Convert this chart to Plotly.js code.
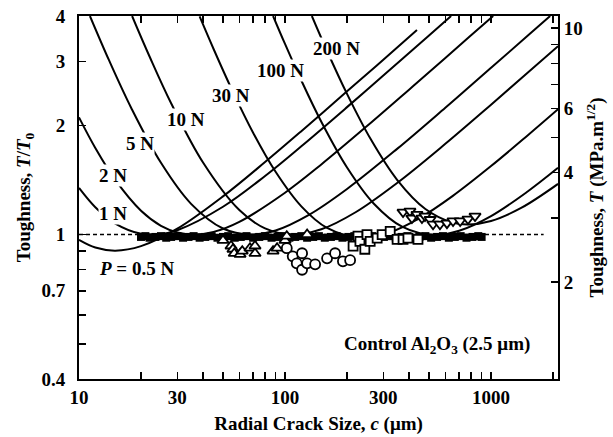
<!DOCTYPE html>
<html>
<head>
<meta charset="utf-8">
<script src="https://cdn.plot.ly/plotly-3.0.1.min.js"></script>
<style>html,body{margin:0;padding:0;background:#fff;}#chart{width:613px;height:437px;}</style>
</head>
<body>
<div id="chart"></div>
<script>
// ---- Reference toughness T0 (MPa.m^1/2) for the right-hand axis ----
const T0 = 2.7;

// ---- Theoretical curves, T/T0 vs crack size c (um) ----
const c_P05 = [10, 12, 15, 20, 30, 50, 80, 120, 200, 300, 437];
const t_P05 = [0.967, 0.921, 0.903, 0.929, 1.038, 1.274, 1.584, 1.927, 2.48, 3.03, 3.66];

const c_P1 = [10, 12, 15, 20, 25, 30, 50, 80, 120, 200, 300, 500, 640];
const t_P1 = [1.344, 1.189, 1.072, 1.005, 1.004, 1.028, 1.193, 1.45, 1.751, 2.244, 2.742, 3.535, 4.0];

const c_P2 = [10, 12, 15, 20, 25, 30, 36, 45, 60, 100, 150, 250, 400, 600, 800, 1024];
const t_P2 = [2.103, 1.732, 1.414, 1.163, 1.057, 1.014, 1.0, 1.017, 1.084, 1.304, 1.56, 1.99, 2.507, 3.066, 3.538, 4.0];

const c_P5 = [11.3, 14, 18, 25, 35, 50, 68, 90, 130, 200, 350, 600, 1000, 1500, 1936];
const t_P5 = [4.0, 3.017, 2.222, 1.576, 1.215, 1.039, 1.0, 1.026, 1.131, 1.335, 1.722, 2.236, 2.879, 3.523, 4.0];

const c_P10 = [18.1, 22, 28, 40, 60, 80, 109, 150, 220, 350, 600, 1000, 1500, 2114];
const t_P10 = [4.0, 3.094, 2.30, 1.579, 1.168, 1.04, 1.0, 1.034, 1.152, 1.387, 1.778, 2.279, 2.786, 3.304];

const c_P30 = [38.5, 45, 55, 70, 90, 120, 160, 235, 320, 450, 650, 1000, 1500, 2114];
const t_P30 = [3.99, 3.245, 2.52, 1.908, 1.489, 1.196, 1.043, 0.98, 1.012, 1.11, 1.276, 1.544, 1.872, 2.214];

const c_P100 = [87.5, 100, 120, 150, 200, 270, 370, 528, 700, 1000, 1500, 2114];
const t_P100 = [4.0, 3.35, 2.657, 2.045, 1.53, 1.216, 1.051, 0.997, 1.024, 1.124, 1.312, 1.527];

const c_P200 = [135, 160, 200, 260, 350, 480, 650, 775, 1000, 1400, 2114];
const t_P200 = [4.0, 3.204, 2.44, 1.835, 1.415, 1.176, 1.079, 1.066, 1.09, 1.184, 1.379];

// ---- Reference line T/T0 = 1 ----
const c_ref = [10, 1800];
const t_ref = [1, 1];

// ---- Measured data ----
const c_filled = [20, 21, 22, 23.5, 25, 26.5, 28, 30, 32, 34, 36, 38.5, 41, 44, 47, 50, 53, 57, 61, 65, 70, 75, 80, 86, 92, 98, 105, 112, 120, 128, 137, 146, 156, 167, 178, 190, 203, 217, 232, 248, 265, 283, 302, 323, 345, 368, 393, 420, 449, 480, 512, 547, 584, 624, 667, 712, 760, 812, 867, 900];
const t_filled = [0.985, 0.99, 0.98, 0.985, 0.99, 0.98, 0.985, 0.99, 0.98, 0.985, 0.99, 0.98, 0.985, 0.99, 0.98, 0.985, 0.99, 0.98, 0.985, 0.99, 0.98, 0.985, 0.99, 0.98, 0.985, 0.99, 0.98, 0.985, 0.99, 0.98, 0.985, 0.99, 0.98, 0.985, 0.99, 0.98, 0.985, 0.99, 0.98, 0.985, 0.99, 0.98, 0.985, 0.99, 0.98, 0.985, 0.99, 0.98, 0.985, 0.99, 0.98, 0.985, 0.99, 0.98, 0.985, 0.99, 0.98, 0.985, 0.99, 0.985];

const c_tri = [50, 54.7, 55.9, 56.7, 60.5, 62, 67.6, 71.5, 71.5, 87.5, 91.5, 100, 102, 128];
const t_tri = [0.964, 0.93, 0.911, 0.887, 0.882, 0.90, 0.917, 0.887, 0.93, 0.90, 0.917, 0.964, 0.99, 1.0];

const c_circ = [102, 109, 114, 121, 121, 128, 140, 160, 175, 191, 207];
const t_circ = [0.917, 0.871, 0.833, 0.888, 0.80, 0.833, 0.828, 0.86, 0.888, 0.844, 0.85];

const c_sq = [214, 226, 231, 244, 250, 259, 280, 296, 324, 350, 374, 395, 442];
const t_sq = [0.929, 0.99, 0.958, 0.911, 1.0, 0.958, 0.977, 1.0, 1.02, 0.97, 0.97, 0.977, 0.97];

const c_itri = [374, 404, 413, 437, 462, 478, 506, 523, 565, 611, 654, 708, 773, 836];
const t_itri = [1.153, 1.16, 1.11, 1.137, 1.11, 1.124, 1.10, 1.068, 1.068, 1.075, 1.09, 1.09, 1.103, 1.124];

// ---- Tick labels ----
const xTickVals = [10, 20, 30, 40, 50, 60, 70, 80, 90, 100, 200, 300, 400, 500, 600, 700, 800, 900, 1000, 2000];
const xTickText = ['10', '', '30', '', '', '', '', '', '', '100', '', '300', '', '', '', '', '', '', '1000', ''];
const yTickVals = [0.4, 0.5, 0.6, 0.7, 0.8, 0.9, 1, 2, 3, 4];
const yTickText = ['0.4', '', '', '0.7', '', '', '1', '2', '3', '4'];
const y2TickVals = [2, 3, 4, 5, 6, 7, 8, 9, 10];
const y2TickText = ['2', '', '4', '', '6', '', '', '', '10'];

const FONT = 'Liberation Serif, Times New Roman, serif';
const FS = 19;

function curve(c, t) {
  return {x: c, y: t, type: 'scatter', mode: 'lines', hoverinfo: 'skip',
          line: {color: '#000', width: 2, shape: 'spline', smoothing: 1}, showlegend: false};
}
function pts(c, t, symbol, size) {
  return {x: c, y: t, type: 'scatter', mode: 'markers', showlegend: false,
          marker: {symbol: symbol, size: size, color: '#fff', line: {color: '#000', width: 1.8}}};
}

const traces = [
  {x: c_ref, y: t_ref, type: 'scatter', mode: 'lines', showlegend: false,
   line: {color: '#000', width: 1.5, dash: '4px,3px'}},
  curve(c_P05, t_P05), curve(c_P1, t_P1), curve(c_P2, t_P2), curve(c_P5, t_P5),
  curve(c_P10, t_P10), curve(c_P30, t_P30), curve(c_P100, t_P100), curve(c_P200, t_P200),
  {x: c_filled, y: t_filled, type: 'scatter', mode: 'markers', showlegend: false,
   marker: {symbol: 'square', size: 8, color: '#000', line: {width: 0}}},
  pts(c_tri, t_tri, 'triangle-up', 10),
  pts(c_circ, t_circ, 'circle', 10),
  pts(c_sq, t_sq, 'square', 9),
  pts(c_itri, t_itri, 'triangle-down', 10),
  {x: [100], y: [T0], type: 'scatter', mode: 'markers', yaxis: 'y2', showlegend: false,
   hoverinfo: 'skip', marker: {opacity: 0}}
];

const L = Math.log10;
function lab(text, c, t, extra) {
  return Object.assign({text: text, x: L(c), y: L(t), xref: 'x', yref: 'y', showarrow: false,
    bgcolor: '#fff', borderpad: 0, font: {family: FONT, size: FS, color: '#000', weight: 'bold'}}, extra || {});
}

const layout = {
  width: 613, height: 437,
  margin: {l: 79, r: 55, t: 16, b: 58},
  paper_bgcolor: '#fff', plot_bgcolor: '#fff',
  font: {family: FONT, size: FS, color: '#000', weight: 'bold'},
  showlegend: false,
  xaxis: {
    type: 'log', range: [1, 3.325],
    tickmode: 'array', tickvals: xTickVals, ticktext: xTickText,
    ticks: 'inside', ticklen: 7, tickwidth: 1.5, tickcolor: '#000',
    showline: true, linecolor: '#000', linewidth: 2, mirror: 'ticks',
    showgrid: false, zeroline: false, automargin: false,
    tickfont: {family: FONT, size: FS, weight: 'bold'},
    title: {text: 'Radial Crack Size, <i>c</i> (μm)', font: {family: FONT, size: FS, weight: 'bold'}, standoff: 10}
  },
  yaxis: {
    type: 'log', range: [L(0.4), L(4)],
    tickmode: 'array', tickvals: yTickVals, ticktext: yTickText,
    ticks: 'inside', ticklen: 7, tickwidth: 1.5, tickcolor: '#000',
    showline: true, linecolor: '#000', linewidth: 2, mirror: false,
    showgrid: false, zeroline: false, automargin: false,
    ticklabelstandoff: 8,
    tickfont: {family: FONT, size: FS, weight: 'bold'},
    title: {text: 'Toughness, <i>T</i>/<i>T</i><sub>0</sub>', font: {family: FONT, size: FS, weight: 'bold'}, standoff: 6}
  },
  yaxis2: {
    type: 'log', overlaying: 'y', side: 'right',
    range: [L(0.4 * T0), L(4 * T0)],
    tickmode: 'array', tickvals: y2TickVals, ticktext: y2TickText,
    ticks: 'inside', ticklen: 7, tickwidth: 1.5, tickcolor: '#000',
    showline: true, linecolor: '#000', linewidth: 2,
    showgrid: false, zeroline: false, automargin: false,
    tickfont: {family: FONT, size: FS, weight: 'bold'},
    title: {text: 'Toughness, <i>T</i> (MPa.m<sup>1/2</sup>)', font: {family: FONT, size: FS, weight: 'bold'}, standoff: 8}
  },
  annotations: [
    lab('<i>P</i> = 0.5 N', 19.1, 0.807, {bgcolor: 'rgba(0,0,0,0)'}),
    lab('1 N', 14.6, 1.146),
    lab('2 N', 14.6, 1.45),
    lab('5 N', 19.8, 1.78),
    lab('10 N', 33.0, 2.08),
    lab('30 N', 54.7, 2.42),
    lab('100 N', 94.6, 2.83),
    lab('200 N', 178.6, 3.26),
    lab('Control Al<sub>2</sub>O<sub>3</sub> (2.5 μm)', 547, 0.497, {bgcolor: 'rgba(0,0,0,0)'})
  ]
};

Plotly.newPlot('chart', traces, layout, {displayModeBar: false, staticPlot: true});
</script>
</body>
</html>
